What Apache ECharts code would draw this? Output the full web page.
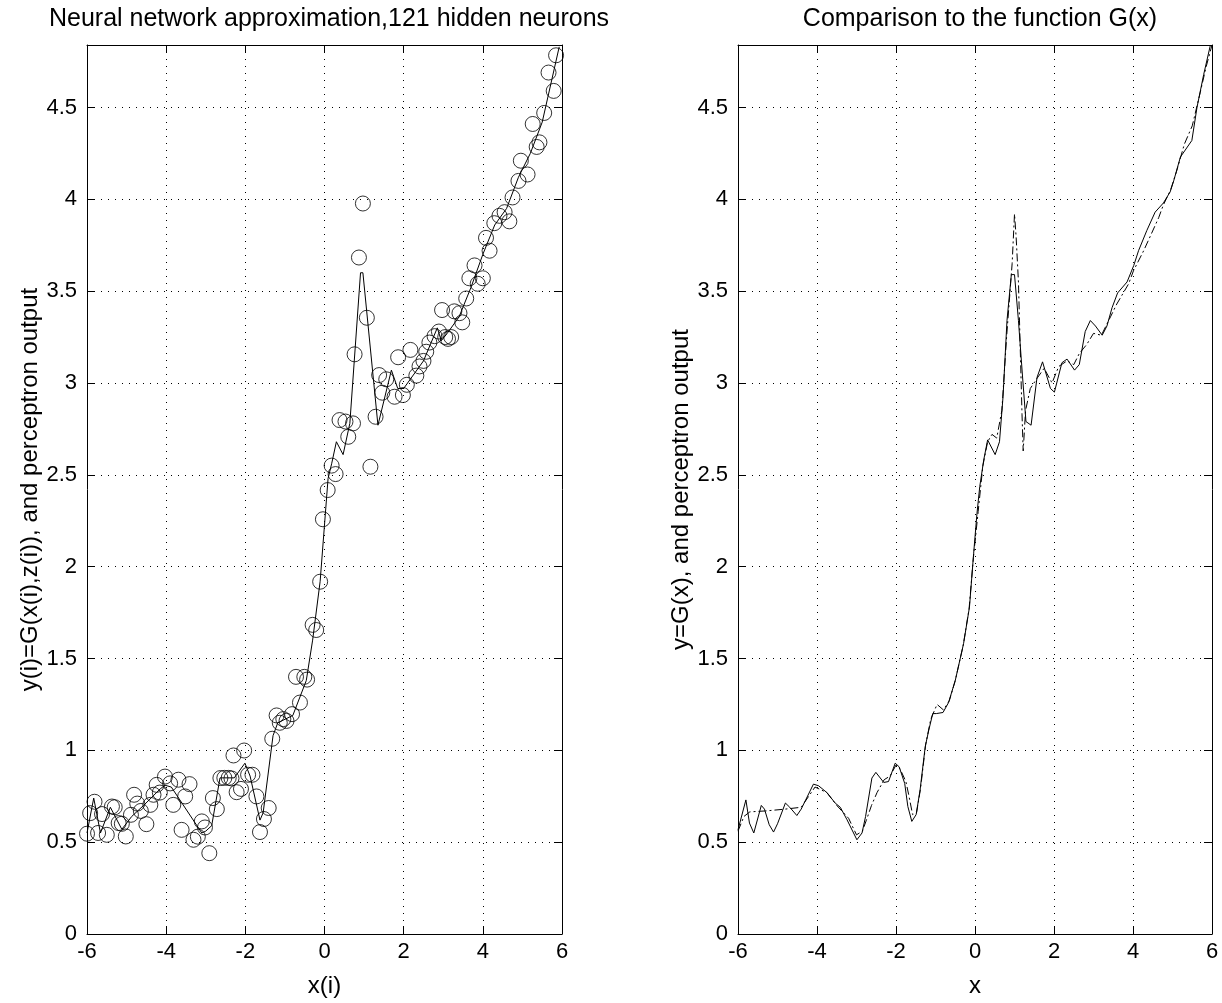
<!DOCTYPE html>
<html>
<head>
<meta charset="utf-8">
<script src="https://cdn.jsdelivr.net/npm/echarts@6/dist/echarts.min.js"></script>
<style>
html,body{margin:0;padding:0;background:#fff;}
#chart{width:1222px;height:1003px;}
</style>
</head>
<body>
<div id="chart"></div>
<script>
// ---- Data ----
const xTickLabels = [-6, -4, -2, 0, 2, 4, 6];
const yTickLabels = [0, 0.5, 1, 1.5, 2, 2.5, 3, 3.5, 4, 4.5];

// Left: training samples y(i)=G(x(i),z(i)) (circles)
const sampleX = [-6.0,-5.92,-5.81,-5.72,-5.62,-5.50,-5.37,-5.30,-5.20,-5.12,-5.02,-4.89,-4.81,-4.73,-4.64,-4.50,-4.40,-4.32,-4.24,-4.16,-4.03,-3.90,-3.82,-3.69,-3.61,-3.52,-3.41,-3.31,-3.20,-3.10,-3.02,-2.91,-2.82,-2.72,-2.63,-2.53,-2.42,-2.35,-2.30,-2.22,-2.11,-2.03,-1.93,-1.82,-1.72,-1.63,-1.53,-1.41,-1.32,-1.21,-1.13,-1.04,-0.96,-0.82,-0.72,-0.62,-0.51,-0.44,-0.30,-0.21,-0.11,-0.04,0.08,0.18,0.28,0.38,0.53,0.60,0.72,0.76,0.87,0.97,1.07,1.16,1.29,1.38,1.46,1.56,1.77,1.86,1.98,2.08,2.17,2.32,2.40,2.50,2.57,2.65,2.78,2.89,2.97,3.05,3.12,3.20,3.28,3.41,3.48,3.58,3.66,3.79,3.87,4.00,4.08,4.17,4.29,4.42,4.55,4.67,4.75,4.90,4.96,5.13,5.26,5.36,5.43,5.55,5.66,5.79,5.85];
const sampleY = [0.546,0.658,0.72,0.55,0.653,0.54,0.694,0.69,0.604,0.60,0.531,0.649,0.758,0.71,0.67,0.598,0.703,0.758,0.812,0.77,0.857,0.82,0.703,0.84,0.567,0.749,0.816,0.513,0.53,0.613,0.58,0.44,0.74,0.68,0.849,0.85,0.85,0.847,0.972,0.772,0.79,0.999,0.867,0.867,0.749,0.555,0.626,0.686,1.063,1.19,1.15,1.17,1.16,1.197,1.40,1.26,1.40,1.385,1.683,1.655,1.918,2.258,2.417,2.55,2.504,2.798,2.79,2.707,2.78,3.156,3.683,3.977,3.355,2.544,2.816,3.043,2.947,3.02,2.925,3.14,2.934,2.99,3.18,3.04,3.09,3.12,3.17,3.22,3.255,3.28,3.397,3.25,3.24,3.25,3.39,3.38,3.33,3.46,3.57,3.64,3.54,3.57,3.79,3.72,3.87,3.91,3.93,3.88,4.01,4.10,4.21,4.135,4.41,4.285,4.31,4.47,4.69,4.59,4.784];

// Left: perceptron output (solid line)
const netX = [-6.0,-5.83,-5.66,-5.41,-5.12,-4.87,-4.57,-4.15,-4.03,-3.87,-3.10,-3.0,-2.85,-2.64,-2.28,-2.01,-1.88,-1.63,-1.55,-1.30,-1.18,-0.80,-0.46,-0.30,-0.11,0.09,0.18,0.30,0.47,0.64,0.91,0.97,1.35,1.69,1.85,2.0,2.5,2.85,2.95,3.1,3.4,3.7,4.0,4.3,4.6,4.9,5.2,5.5,5.93];
const netY = [0.55,0.74,0.55,0.69,0.57,0.64,0.70,0.79,0.81,0.80,0.55,0.56,0.59,0.85,0.85,0.93,0.86,0.62,0.66,1.08,1.15,1.19,1.38,1.60,1.92,2.48,2.56,2.68,2.61,2.78,3.60,3.60,2.77,3.07,2.97,2.97,3.12,3.30,3.23,3.27,3.36,3.52,3.70,3.86,3.95,4.12,4.25,4.42,4.83];

// Right: solid curve
const solidX = [-6.0,-5.8,-5.71,-5.60,-5.41,-5.33,-5.21,-5.10,-5.0,-4.80,-4.69,-4.51,-4.40,-4.09,-3.96,-3.75,-3.54,-3.41,-3.24,-2.99,-2.86,-2.77,-2.61,-2.51,-2.31,-2.19,-2.02,-1.92,-1.78,-1.70,-1.60,-1.49,-1.39,-1.26,-1.17,-1.07,-0.98,-0.81,-0.67,-0.50,-0.29,-0.14,-0.035,0.05,0.12,0.22,0.32,0.51,0.62,0.71,0.81,0.92,1.0,1.10,1.21,1.29,1.42,1.57,1.71,1.91,2.01,2.20,2.33,2.52,2.64,2.79,2.92,3.05,3.22,3.34,3.47,3.61,3.85,4.02,4.14,4.35,4.56,4.77,4.94,5.03,5.20,5.49,5.62,5.79,5.96];
const solidY = [0.567,0.73,0.604,0.55,0.70,0.68,0.595,0.555,0.60,0.713,0.69,0.645,0.68,0.816,0.807,0.77,0.713,0.69,0.622,0.513,0.55,0.64,0.849,0.88,0.825,0.83,0.93,0.91,0.82,0.694,0.613,0.65,0.785,1.02,1.11,1.20,1.20,1.206,1.26,1.38,1.58,1.78,2.07,2.29,2.435,2.58,2.69,2.61,2.68,2.925,3.34,3.59,3.59,3.34,3.016,2.79,2.77,3.03,3.115,2.97,2.95,3.11,3.13,3.07,3.10,3.28,3.34,3.31,3.26,3.31,3.41,3.49,3.55,3.64,3.72,3.83,3.93,3.98,4.04,4.10,4.23,4.32,4.50,4.68,4.84];

// Right: dash-dot curve
const dashX = [-6.0,-5.85,-5.7,-5.3,-4.8,-4.4,-4.05,-3.75,-3.5,-3.2,-3.0,-2.85,-2.75,-2.62,-2.48,-2.3,-2.15,-2.0,-1.9,-1.75,-1.68,-1.58,-1.48,-1.38,-1.25,-1.12,-0.96,-0.8,-0.65,-0.5,-0.3,-0.15,-0.04,0.08,0.2,0.32,0.43,0.55,0.68,0.8,0.94,1.0,1.04,1.10,1.19,1.22,1.28,1.40,1.57,1.75,1.95,2.12,2.33,2.5,2.64,2.83,3.0,3.2,3.43,3.59,3.89,4.01,4.27,4.44,4.65,4.77,4.95,5.1,5.3,5.5,5.7,5.85,6.0];
const dashY = [0.56,0.64,0.665,0.67,0.68,0.69,0.80,0.77,0.70,0.63,0.54,0.56,0.62,0.70,0.77,0.84,0.86,0.92,0.90,0.83,0.76,0.65,0.66,0.79,1.03,1.17,1.25,1.22,1.27,1.38,1.57,1.77,2.05,2.30,2.55,2.68,2.72,2.70,2.85,3.25,3.65,3.92,3.80,3.55,2.83,2.63,2.85,2.97,3.025,3.08,3.00,3.09,3.12,3.10,3.16,3.21,3.27,3.26,3.36,3.43,3.54,3.61,3.72,3.80,3.90,3.97,4.05,4.15,4.30,4.40,4.58,4.72,4.84];

const zip = (xs, ys) => xs.map((x, i) => [x, ys[i]]);

const FONT = 'Liberation Sans, Arial, Helvetica, sans-serif';
const FS_TICK = 22;
const FS_TEXT = 24;
const FS_TITLE = 25;
const Y_MAX = 4.84;

function grids() {
  return [
    {left: 87, top: 45, width: 475, height: 889, containLabel: false},
    {left: 738, top: 45, width: 474, height: 889, containLabel: false}
  ];
}

function xAxes(gi, name) {
  return [
    {
      type: 'value', gridIndex: gi, position: 'bottom', min: -6, max: 6, interval: 2,
      name: name, nameLocation: 'middle', nameGap: 40,
      nameTextStyle: {fontFamily: FONT, fontSize: FS_TEXT, color: '#000'},
      axisLine: {onZero: false, lineStyle: {color: '#000', width: 1}},
      axisTick: {inside: true, length: 8, lineStyle: {color: '#000'}},
      axisLabel: {fontFamily: FONT, fontSize: FS_TICK, color: '#000', margin: 7,
        formatter: v => xTickLabels.includes(v) ? String(v) : ''},
      splitLine: {show: true, lineStyle: {color: '#000', type: [1, 6], width: 1}}
    },
    {
      type: 'value', gridIndex: gi, position: 'top', min: -6, max: 6, interval: 2,
      axisLine: {onZero: false, lineStyle: {color: '#000', width: 1}},
      axisTick: {inside: true, length: 8, lineStyle: {color: '#000'}},
      axisLabel: {show: false}, splitLine: {show: false}
    }
  ];
}

function yAxes(gi, name, gap) {
  return [
    {
      type: 'value', gridIndex: gi, position: 'left', min: 0, max: Y_MAX, interval: 0.5,
      name: name, nameLocation: 'middle', nameGap: gap,
      nameTextStyle: {fontFamily: FONT, fontSize: FS_TEXT, color: '#000'},
      axisLine: {onZero: false, lineStyle: {color: '#000', width: 1}},
      axisTick: {inside: true, length: 8, lineStyle: {color: '#000'}},
      axisLabel: {fontFamily: FONT, fontSize: FS_TICK, color: '#000', margin: 10, showMaxLabel: false,
        formatter: v => yTickLabels.includes(v) ? String(v) : ''},
      splitLine: {show: true, lineStyle: {color: '#000', type: [1, 6], width: 1}}
    },
    {
      type: 'value', gridIndex: gi, position: 'right', min: 0, max: Y_MAX, interval: 0.5,
      axisLine: {onZero: false, lineStyle: {color: '#000', width: 1}},
      axisTick: {inside: true, length: 8, lineStyle: {color: '#000'}},
      axisLabel: {show: false}, splitLine: {show: false}
    }
  ];
}

const option = {
  backgroundColor: '#fff',
  animation: false,
  title: [
    {text: 'Neural network approximation,121 hidden neurons', left: 324, top: 2, textAlign: 'center',
      textStyle: {fontFamily: FONT, fontSize: FS_TITLE, fontWeight: 'normal', color: '#000'}},
    {text: 'Comparison to the function G(x)', left: 975, top: 2, textAlign: 'center',
      textStyle: {fontFamily: FONT, fontSize: FS_TITLE, fontWeight: 'normal', color: '#000'}}
  ],
  grid: grids(),
  xAxis: [...xAxes(0, 'x(i)'), ...xAxes(1, 'x')],
  yAxis: [...yAxes(0, 'y(i)=G(x(i),z(i)), and perceptron output', 40), ...yAxes(1, 'y=G(x), and perceptron output', 43)],
  series: [
    {
      type: 'scatter', xAxisIndex: 0, yAxisIndex: 0, data: zip(sampleX, sampleY),
      symbol: 'circle', symbolSize: 15,
      itemStyle: {color: 'rgba(0,0,0,0)', borderColor: '#000', borderWidth: 1}
    },
    {
      type: 'line', xAxisIndex: 0, yAxisIndex: 0, data: zip(netX, netY),
      showSymbol: false, lineStyle: {color: '#000', width: 1}
    },
    {
      type: 'line', xAxisIndex: 2, yAxisIndex: 2, data: zip(solidX, solidY),
      showSymbol: false, lineStyle: {color: '#000', width: 1}
    },
    {
      type: 'line', xAxisIndex: 2, yAxisIndex: 2, data: zip(dashX, dashY),
      showSymbol: false, lineStyle: {color: '#000', width: 1, type: [8, 3, 2, 3]}
    }
  ]
};

const chart = echarts.init(document.getElementById('chart'), null, {renderer: 'canvas'});
chart.setOption(option);
</script>
</body>
</html>
